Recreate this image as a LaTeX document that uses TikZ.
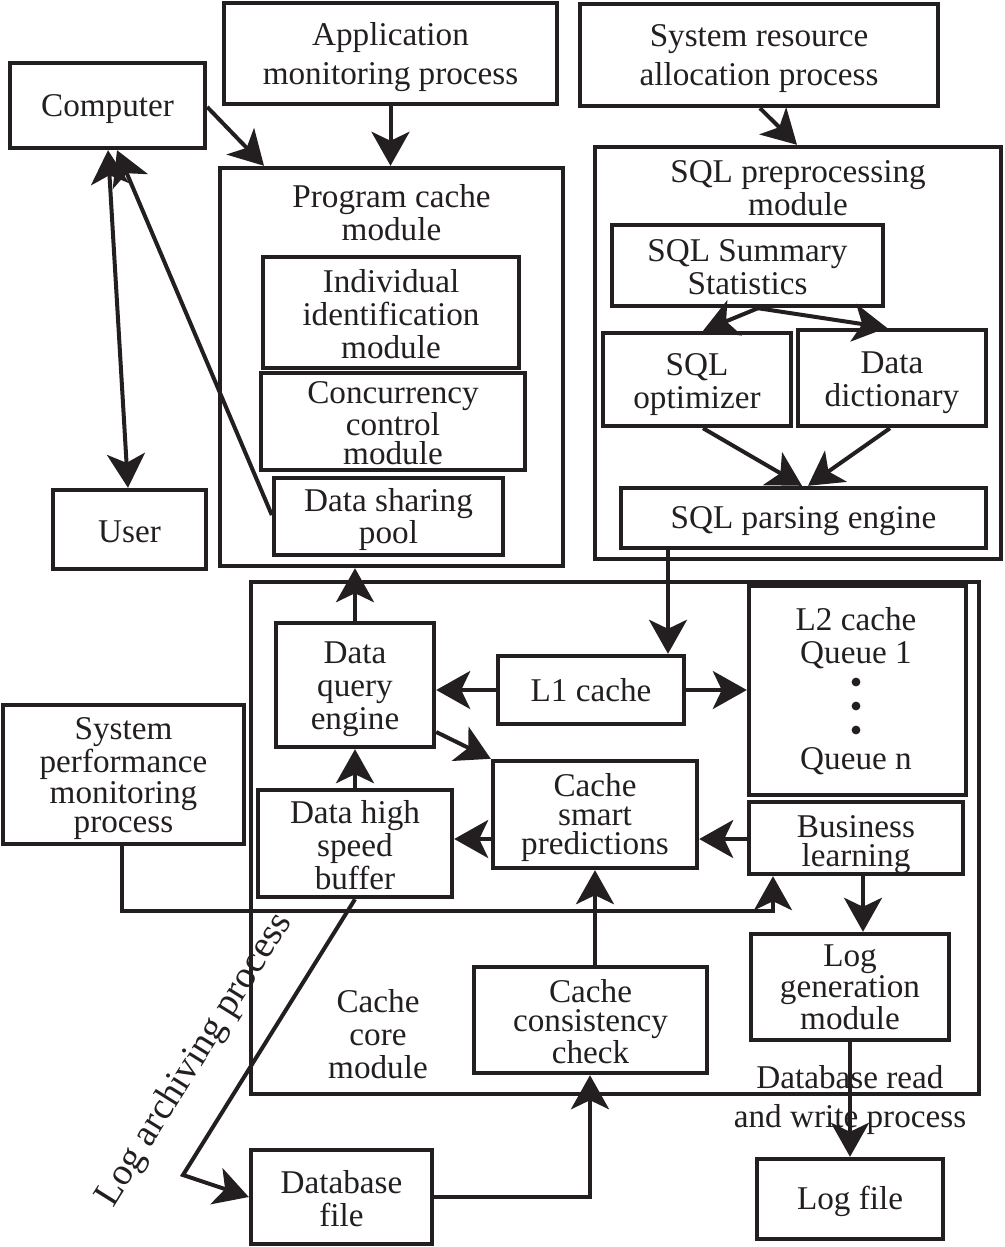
\documentclass[tikz,border=0pt]{standalone}
\usepackage{fontspec}
\setmainfont{Liberation Serif}
\usetikzlibrary{arrows.meta}
\definecolor{ink}{RGB}{35,31,32}
\newcommand\bxn[7][]{\node[box, minimum width={(#5-#3)*0.5pt}, minimum height={(#6-#4)*0.5pt}] (#2) at ({(#3+#5)/2},{(#4+#6)/2}) {};
  \node[lbl, yshift=-1pt, #1] (#2t) at (#2.center) {#7};}
\tikzset{
  box/.style={draw=ink, line width=2.2pt, inner sep=0pt},
  lbl/.style={text=ink, inner sep=0pt, align=center, font=\fontsize{16.6}{16.5}\selectfont},
  tight/.style={font=\fontsize{16.6}{14.5}\selectfont},
  wide/.style={font=\fontsize{16.6}{19.5}\selectfont},
  tip/.tip={Stealth[length=17pt, width=19pt, inset=4.5pt]},
  arr/.style={draw=ink, line width=2pt, -tip},
  darr/.style={draw=ink, line width=2pt, tip-tip}
}
\begin{document}
\begin{tikzpicture}[x=0.5pt,y=-0.5pt]
\useasboundingbox (0,0) rectangle (1005,1247);
% boxes
\bxn[yshift=-1pt]{Comp}{10}{63}{205}{148}{Computer}
\bxn[wide, yshift=-1pt]{App}{224}{3}{557}{104}{Application\\monitoring process}
\bxn[wide, yshift=-1pt]{SRA}{580}{4}{938}{106}{System resource\\allocation process}
\bxn{PC}{220}{168}{563}{566}{}
\node[lbl] (PCt) at (391.5,213) {Program cache\\module};
\bxn{IIM}{263}{257}{519}{368}{Individual\\identification\\module}
\bxn[tight]{CCM}{261}{373}{525}{470}{Concurrency\\control\\module}
\bxn[tight, yshift=-0.5pt]{DSP}{274}{478}{503}{555}{Data sharing\\pool}
\bxn{User}{53}{490}{206}{569}{User}
\bxn{SQLP}{595}{147}{1001}{559}{}
\node[lbl] (SQLPt) at (798,188) {SQL preprocessing\\module};
\bxn{SUM}{612}{225}{883}{306}{SQL Summary\\Statistics}
\bxn[yshift=-1.5pt]{OPT}{603}{333}{791}{426}{SQL\\optimizer}
\bxn[yshift=-1.5pt]{DICT}{798}{330}{986}{426}{Data\\dictionary}
\bxn[yshift=-0.5pt]{PARSE}{621}{488}{986}{548}{SQL parsing engine}
\bxn{CORE}{251}{582}{979}{1094}{}
\node[lbl] (COREt) at (378,1034) {Cache\\core\\module};
\bxn{L2}{749}{586}{966}{795}{}
\node[lbl] (L2t) at (856,638) {L2 cache\\Queue 1};
\node[lbl] (L2n) at (856,761) {Queue n};
\fill[ink] (856,682) circle[radius=2.2pt];
\fill[ink] (856,706) circle[radius=2.2pt];
\fill[ink] (856,730) circle[radius=2.2pt];
\bxn[yshift=1pt]{L1}{498}{656}{684}{724}{L1 cache}
\bxn[yshift=-1pt]{DQE}{276}{623}{434}{747}{Data\\query\\engine}
\bxn[tight, yshift=-0.5pt]{CSP}{493}{761}{697}{868}{Cache\\smart\\predictions}
\bxn[tight, yshift=-2.5pt]{BL}{749}{802}{963}{874}{Business\\learning}
\bxn{DHSB}{258}{790}{452}{897}{Data high\\speed\\buffer}
\bxn[tight, yshift=-1pt]{SPM}{3}{705}{244}{844}{System\\performance\\monitoring\\process}
\bxn[tight]{CCC}{474}{967}{707}{1073}{Cache\\consistency\\check}
\bxn[tight, yshift=1pt]{LGM}{751}{934}{949}{1040}{Log\\generation\\module}
\bxn{DBF}{251}{1150}{432}{1244}{Database\\file}
\bxn{LF}{757}{1159}{943}{1239}{Log file}
\node[lbl, wide] (DBRW) at (850,1100) {Database read\\and write process};
\node[lbl, font=\fontsize{19}{19}\selectfont, rotate=58] (LAP) at (195,1060) {Log archiving process};
% connectors
\draw[arr] (Comp.east |- 0,107) -- (PC.north -| 264,0);
\draw[arr] (App.south) -- (App.south |- PC.north);
\draw[darr] (Comp.south -| 108,0) -- (User.north -| 128,0);
\draw[arr] (DSP.west |- 0,515) -- (Comp.south -| 117,0);
\draw[arr] (SRA.south -| 760,0) -- (SQLP.north -| 797,0);
\draw[arr] (SUM.south -| 758,0) -- (OPT.north -| 703,0);
\draw[arr] (SUM.south -| 758,0) -- (DICT.north -| 887,0);
\draw[arr] (OPT.south -| 703,0) -- (PARSE.north -| 802,0);
\draw[arr] (DICT.south -| 890,0) -- (PARSE.north -| 808,0);
\draw[arr] (PARSE.south -| 668,0) -- (L1.north -| 668,0);
\draw[arr] (L1.west) -- (L1.west -| DQE.east);
\draw[arr] (L1.east) -- (L1.east -| L2.west);
\draw[arr] (DQE.north) -- (DQE.north |- PC.south);
\draw[arr] (DQE.east |- 0,732) -- (CSP.north west);
\draw[arr] (DHSB.north) -- (DHSB.north |- DQE.south);
\draw[arr] (CSP.west |- 0,839) -- (DHSB.east |- 0,839);
\draw[arr] (BL.west |- 0,839) -- (CSP.east |- 0,839);
\draw[arr] (CCC.north -| 595,0) -- (CSP.south -| 595,0);
\draw[arr] (SPM.south -| 122,0) -- (122,911) -- (773,911) -- (BL.south -| 773,0);
\draw[arr] (BL.south -| 863,0) -- (LGM.north -| 863,0);
\draw[arr] (LGM.south -| 850,0) -- (LF.north -| 850,0);
\draw[arr] (DHSB.south) -- (183,1175) -- (DBF.west |- 0,1197);
\draw[arr] (DBF.east |- 0,1197) -- (590,1197) -- (CCC.south -| 590,0);
\end{tikzpicture}
\end{document}
